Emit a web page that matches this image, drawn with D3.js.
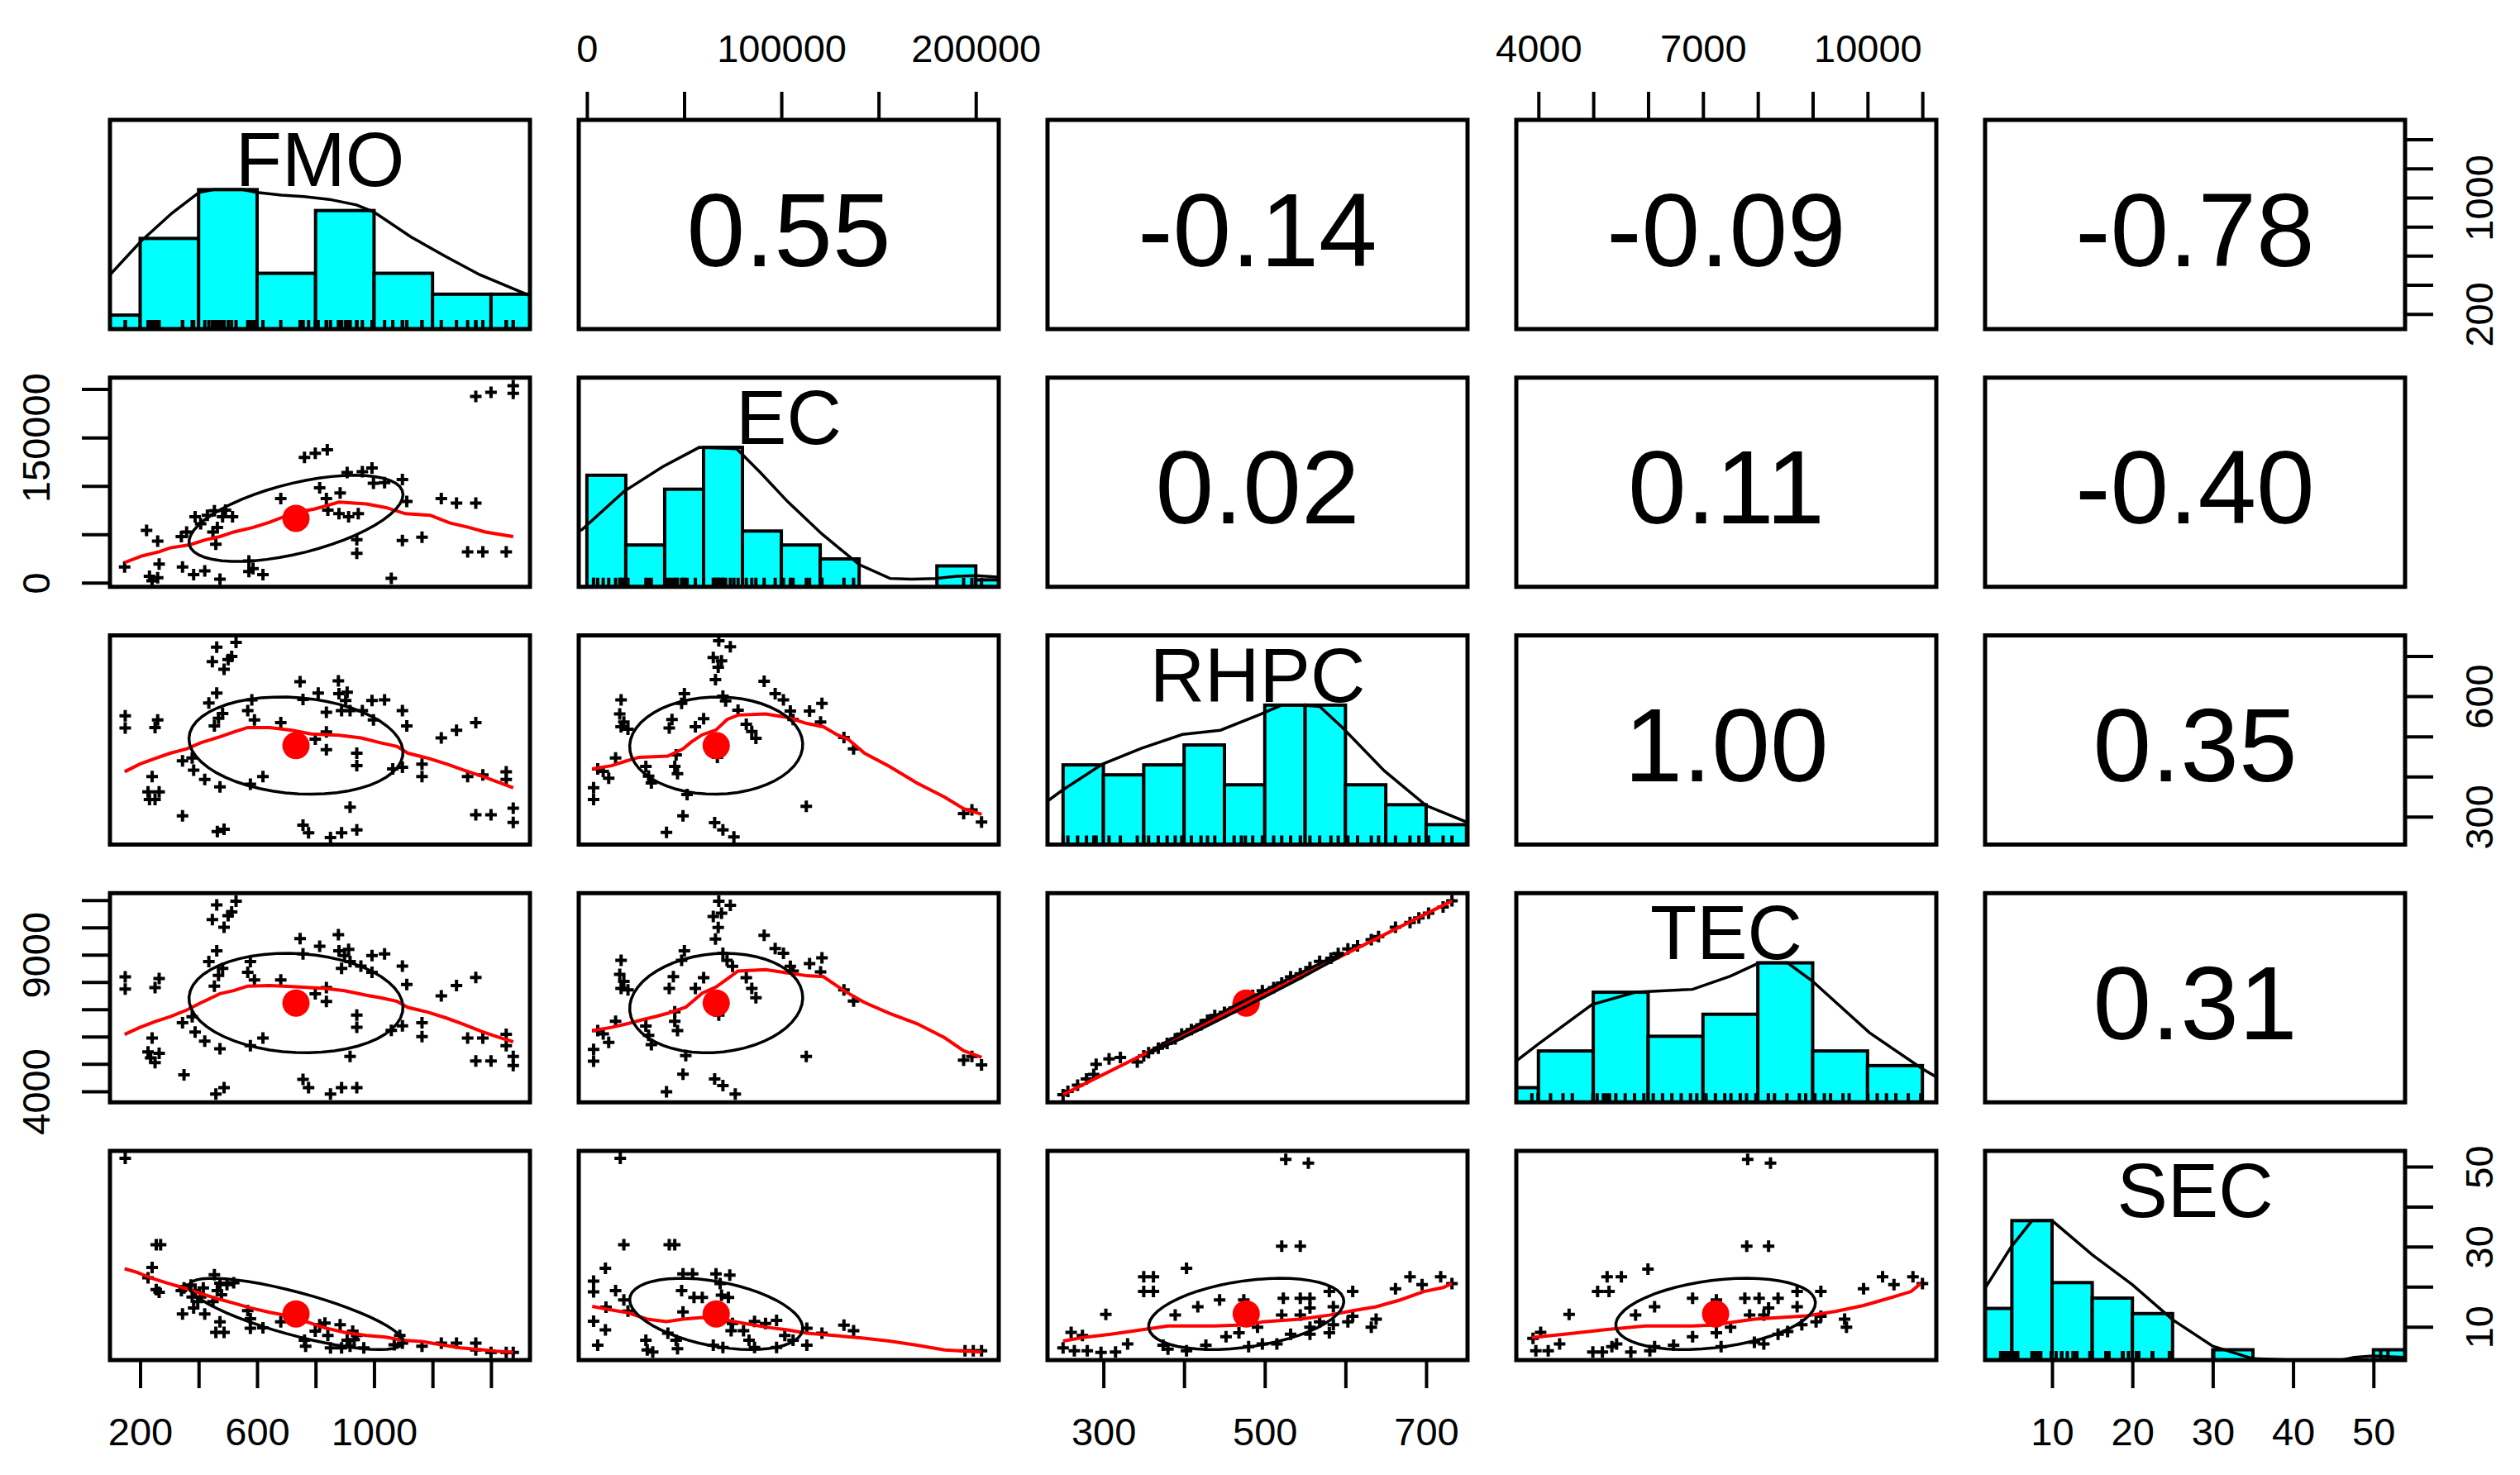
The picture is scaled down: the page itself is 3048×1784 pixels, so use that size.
<!DOCTYPE html>
<html>
<head>
<meta charset="utf-8">
<script src="https://cdn.jsdelivr.net/npm/d3@7"></script>
<style>
html, body { margin: 0; padding: 0; background: #fff; }
svg text { font-family: "Liberation Sans", Arial, sans-serif; }
</style>
</head>
<body>
<div id="chart"></div>
<script>
// variables, their data range, mean and sd
const varNames = ["FMO", "EC", "RHPC", "TEC", "SEC"]
const varLo = [150, 3800, 250, 3880, 3.6]
const varHi = [1480, 203800, 732, 10970, 52]
const varMean = [733, 66500, 477, 7230, 13.2]
const varSd = [366, 44500, 121, 1820, 8.9]
const corr = [
  [1, 0.55, -0.14, -0.09, -0.78],
  [0.55, 1, 0.02, 0.11, -0.40],
  [-0.14, 0.02, 1, 0.998, 0.35],
  [-0.09, 0.11, 0.998, 1, 0.31],
  [-0.78, -0.40, 0.35, 0.31, 1]
]

// tick values and which of them carry a label
const fmoTicks = [200, 400, 600, 800, 1000, 1200, 1400]
const ecTicks = [0, 50000, 100000, 150000, 200000]
const rhpcTicks = [300, 400, 500, 600, 700]
const tecTicks = [4000, 5000, 6000, 7000, 8000, 9000, 10000, 11000]
const secTicks = [10, 20, 30, 40, 50]
const fmoBottomLabels = [200, 600, 1000]
const fmoRightLabels = [200, 1000]
const ecTopLabels = [0, 100000, 200000]
const ecLeftLabels = [0, 150000]
const rhpcBottomLabels = [300, 500, 700]
const rhpcRightLabels = [300, 600]
const tecTopLabels = [4000, 7000, 10000]
const tecLeftLabels = [4000, 9000]
const secBottomLabels = [10, 20, 30, 40, 50]
const secRightLabels = [10, 30, 50]

// histograms
const fmoBreaks = [0, 200, 400, 600, 800, 1000, 1200, 1400, 1600]
const fmoCounts = [2, 13, 20, 8, 17, 8, 5, 5]
const ecBreaks = [0, 20000, 40000, 60000, 80000, 100000, 120000, 140000, 160000, 180000, 200000, 220000]
const ecCounts = [16, 6, 14, 20, 8, 6, 4, 0, 0, 3, 1]
const rhpcBreaks = [250, 300, 350, 400, 450, 500, 550, 600, 650, 700, 750]
const rhpcCounts = [8, 7, 8, 10, 6, 14, 14, 6, 4, 2]
const tecBreaks = [3000, 4000, 5000, 6000, 7000, 8000, 9000, 10000, 11000]
const tecCounts = [2, 7, 15, 9, 12, 19, 7, 5]
const secBreaks = [0, 5, 10, 15, 20, 25, 30, 35, 40, 45, 50, 55]
const secCounts = [10, 27, 15, 12, 9, 0, 2, 0, 0, 0, 2]

// density curves (scaled to max 1)
const fmoDens = [[97,.39],[203,.63],[308,.83],[402,.98],[450,1],[550,1],[600,.98],[683,.96],[760,.95],[847,.93],[940,.89],[999,.84],[1127,.66],[1245,.52],[1361,.39],[1533,.24]]
const ecDens = [[-4200,.40],[-2500,.41],[19200,.685],[38800,.86],[57750,1],[77000,.99],[89200,.82],[103300,.61],[120800,.38],[140000,.16],[155900,.06],[167000,.055],[179250,.06],[190000,.075],[200400,.08],[211800,.07]]
const rhpcDens = [[228,.30],[248,.385],[299,.578],[347,.69],[398,.79],[445,.82],[497,.94],[521,1],[545,1],[568,.99],[596,.84],[648,.53],[700,.28],[751,.16]]
const tecDens = [[3589,.294],[4005,.42],[4975,.70],[5771,.79],[6809,.81],[7500,.905],[8023,1],[8542,1],[8993,.87],[10032,.50],[11000,.24],[11261,.18]]
const secDens = [[1.6,.51],[4.9,.81],[7.5,1],[10,1],[15,.755],[20,.54],[25,.29],[30,.10],[35,.01],[40,0],[46,0],[47.6,.02],[49.9,.03],[53.9,.02]]

// scatter points of the lower panels
const fmoEcPts = [[1348,192450],[1400,196550],[1476,203470],[1476,195600],[762,129500],[799,133600],[840,137380],[908,113780],[960,114720],[993,118500],[998,102770],[1036,103400],[1097,106540],[1112,83880],[814,98040],[837,87030],[884,92700],[681,87030],[1230,87030],[1282,82310],[1348,82310],[842,75070],[880,71300],[913,68150],[946,71300],[388,68150],[454,74440],[492,75070],[516,68150],[407,60900],[449,52420],[464,57130],[359,52420],[222,53990],[260,42970],[341,47690],[459,39830],[1097,43600],[1164,47060],[941,44550],[941,30380],[1320,31960],[1372,31960],[1452,31960],[147,16230],[265,19380],[345,16230],[383,8360],[421,12130],[232,6790],[260,5210],[241,2070],[473,3630],[572,22530],[572,11520],[586,14650],[620,8360],[1059,4580],[430,69720],[482,68150]]
const fmoRhpcPts = [[462,722],[528,734],[447,686],[501,691],[513,699],[487,667],[747,636],[878,638],[462,608],[435,583],[482,557],[468,545],[454,526],[582,591],[568,564],[591,541],[757,592],[809,608],[880,606],[903,589],[908,610],[889,564],[918,564],[960,564],[993,589],[1036,591],[998,541],[1097,564],[1112,526],[837,560],[681,534],[799,493],[837,511],[837,467],[149,551],[149,521],[260,541],[251,522],[345,439],[378,446],[383,416],[241,400],[227,362],[265,362],[232,343],[251,343],[421,393],[473,374],[577,381],[620,400],[941,458],[941,427],[1064,419],[1097,423],[1164,431],[1164,400],[1230,496],[1282,515],[1348,534],[1320,400],[1372,404],[1452,412],[1452,393],[918,324],[345,302],[464,263],[487,269],[757,279],[776,260],[851,248],[889,260],[941,267],[1348,305],[1400,305],[1476,321],[1476,286]]
const fmoTecPts = [[462,10820],[528,10960],[447,10282],[501,10428],[513,10562],[487,10002],[747,9588],[878,9734],[462,9140],[435,8748],[482,8502],[468,8244],[454,7852],[577,8748],[568,8356],[591,8076],[757,9028],[814,9308],[880,9140],[899,8972],[913,9196],[889,8502],[918,8748],[955,8580],[993,8972],[1036,9028],[993,8356],[1097,8580],[1112,7908],[837,7292],[681,8076],[799,7572],[837,7796],[149,8188],[149,7740],[265,8132],[251,7796],[345,6508],[378,6732],[388,6172],[241,5948],[227,5444],[265,5388],[236,5220],[251,5052],[421,5836],[473,5556],[577,5668],[620,5948],[941,6788],[941,6340],[1059,6228],[1097,6396],[1164,6508],[1164,6004],[1230,7494],[1282,7875],[1348,8166],[1320,5948],[1372,5948],[1452,6082],[1452,5668],[918,5276],[350,4604],[459,3900],[487,4134],[757,4436],[776,4134],[851,3900],[889,4134],[941,4134],[1348,5108],[1400,5108],[1476,5276],[1476,4940]]
const fmoSecPts = [[149,52.1],[255,30.5],[270,30.5],[241,24.8],[227,22.2],[255,19.3],[265,18.6],[341,19.0],[374,20.4],[378,17.4],[397,16.3],[407,17.4],[345,13.2],[383,14.7],[421,13.2],[454,23.0],[473,20.9],[497,20.5],[520,21.0],[464,19.0],[478,18.0],[449,16.3],[473,11.2],[459,8.6],[487,8.6],[568,14.0],[577,12.0],[577,9.6],[620,9.7],[681,11.2],[762,6.6],[766,5.1],[799,8.9],[832,10.9],[842,7.8],[851,4.7],[884,10.5],[889,4.7],[918,5.1],[932,6.8],[941,7.8],[965,4.7],[1069,5.5],[1088,7.8],[1097,5.9],[1164,5.1],[1230,5.9],[1282,5.9],[1348,5.9],[1348,4.2],[1400,3.6],[1452,3.6],[1476,3.6],[350,19.7],[388,19.0],[416,19.7],[814,10.5],[927,8.9],[908,6.6]]
const ecRhpcPts = [[67820,738],[73760,723],[64990,696],[69230,688],[67530,672],[66120,641],[17580,591],[16880,556],[19000,536],[17580,524],[21120,518],[50130,606],[48710,582],[43760,542],[42350,521],[60040,544],[55790,524],[69940,600],[71360,588],[77720,565],[91170,637],[96830,606],[101070,591],[104610,563],[114510,563],[120880,582],[120170,536],[81970,530],[84800,512],[86920,495],[132200,497],[137150,469],[14750,446],[5560,419],[8390,413],[11220,396],[3430,372],[3430,343],[30320,425],[31730,401],[33150,384],[45890,454],[45180,425],[46590,407],[51540,355],[49420,302],[40930,261],[65700,285],[69940,267],[75600,250],[112820,326],[193750,308],[198000,317],[202950,287],[67110,448],[106030,542]]
const ecTecPts = [[67820,10960],[73760,10808],[64990,10396],[69230,10516],[67530,10000],[66120,9571],[17580,8798],[16880,8282],[19000,8024],[17580,7767],[21120,7715],[50130,9141],[48710,8798],[44470,8196],[42350,7767],[60040,8162],[55790,7767],[69940,9055],[72060,8798],[74890,8574],[91170,9709],[96830,9227],[101070,9055],[104610,8574],[114510,8677],[120880,8884],[120170,8368],[81970,8162],[84800,7767],[86920,7423],[132200,7715],[137150,7302],[14750,6564],[5560,6220],[8390,6100],[11220,5790],[3430,5532],[3430,5103],[30320,6392],[31730,6048],[33150,5704],[45180,6907],[45180,6564],[46590,6220],[50840,5309],[49420,4622],[40930,3986],[65700,4450],[69940,4210],[76310,3900],[112820,5275],[193750,5137],[198000,5275],[202950,4966],[67820,6787],[106030,8402]]
const ecSecPts = [[17160,52.1],[19000,30.5],[42350,30.5],[45180,30.5],[9520,24.6],[3430,21.4],[3430,18.7],[14750,19.0],[19000,16.7],[3430,11.4],[9520,9.2],[5560,5.4],[9800,14.9],[49420,23.2],[54370,23.2],[48710,19.0],[55080,17.3],[59330,17.3],[49420,13.7],[66400,23.2],[73480,22.9],[68530,20.8],[69230,17.9],[72770,17.3],[30320,6.6],[31030,4.2],[33860,3.7],[41640,8.4],[45890,6.6],[46590,4.5],[64990,5.4],[69940,4.8],[74180,9.0],[74890,10.8],[83380,6.6],[86210,4.8],[86210,11.3],[91870,10.8],[97530,11.6],[101780,7.8],[106030,6.6],[113100,9.6],[113100,5.4],[120880,8.4],[132200,10.4],[137150,9.0],[194460,4.0],[198710,4.0],[202950,4.0],[21120,13.9],[80550,9.0],[97530,4.8]]
const rhpcTecPts = [[250,3880],[256,3994],[268,4221],[279,4448],[288,4617],[291,4992],[307,5185],[321,5242],[342,5071],[350,5298],[356,5411],[368,5582],[379,5752],[389,5922],[397,6093],[409,6262],[421,6432],[429,6603],[438,6773],[450,6887],[462,7057],[471,7227],[476,7397],[485,7510],[497,7680],[511,7794],[521,7964],[532,8191],[544,8304],[556,8531],[568,8758],[582,8872],[591,9041],[603,9212],[615,9325],[632,9552],[641,9665],[662,10006],[680,10176],[691,10345],[703,10516],[721,10743],[732,10970]]
const rhpcSecPts = [[526,51.8],[554,50.9],[521,30.1],[544,30.1],[403,24.6],[350,22.5],[362,22.5],[350,18.8],[362,18.8],[303,13.1],[260,8.6],[274,7.8],[250,4.7],[264,4.0],[280,4.0],[297,3.6],[315,3.7],[330,5.7],[374,5.4],[403,4.0],[427,5.4],[389,12.9],[417,15.0],[444,16.7],[452,7.5],[468,8.5],[474,16.7],[491,9.9],[497,5.7],[515,5.7],[523,17.1],[544,17.1],[556,17.1],[521,12.9],[544,12.9],[556,14.7],[580,18.8],[609,18.8],[585,15.0],[556,9.9],[568,11.2],[585,10.5],[603,11.2],[609,12.6],[632,9.9],[638,11.9],[532,8.1],[556,8.1],[662,19.5],[680,22.5],[695,20.5],[718,22.5],[732,20.8],[380,4.4],[480,5.0],[580,8.5]]
const tecSecPts = [[7815,51.8],[8231,50.9],[7798,30.1],[8196,30.1],[5997,24.4],[5252,22.5],[5512,22.5],[5079,18.8],[5287,18.8],[4559,13.1],[4040,8.6],[3901,7.1],[3953,4.0],[4178,4.0],[4386,5.7],[4992,3.7],[5166,3.7],[5425,5.7],[5685,3.7],[6031,4.0],[6464,5.4],[5771,12.9],[6118,15.0],[6811,17.1],[6811,7.5],[7244,8.5],[7244,16.7],[7503,9.9],[7763,17.1],[8023,17.1],[8369,17.1],[7850,12.9],[8109,12.9],[8196,14.7],[8716,18.8],[9149,18.8],[8716,15.0],[7937,6.1],[8109,5.7],[8369,8.1],[8543,8.8],[8802,10.5],[9062,11.2],[9149,12.6],[9582,11.9],[9616,9.9],[9928,19.5],[10274,22.5],[10482,20.5],[10828,22.5],[11001,20.8],[5339,5.0],[6118,5.0],[7330,5.0]]

// lowess smoothers of the lower panels
const fmoEcSmooth = [[147,20940],[208,27860],[265,31960],[303,36050],[369,39190],[426,44550],[473,47690],[520,52420],[587,57130],[643,62490],[691,68150],[738,72870],[795,76020],[832,79160],[880,83260],[974,81370],[1041,77590],[1107,71300],[1192,69720],[1258,61850],[1324,57130],[1381,52420],[1476,47690]]
const fmoRhpcSmooth = [[147,412],[199,431],[255,446],[303,458],[360,469],[407,484],[473,499],[520,511],[568,522],[643,522],[719,515],[785,506],[880,503],[956,496],[1022,484],[1079,475],[1116,458],[1183,446],[1249,431],[1306,416],[1372,400],[1429,385],[1476,372]]
const fmoTecSmooth = [[147,6082],[199,6340],[255,6564],[303,6732],[360,6978],[407,7236],[473,7572],[520,7684],[568,7852],[643,7874],[719,7830],[833,7762],[899,7684],[974,7516],[1022,7426],[1079,7292],[1116,7068],[1183,6900],[1249,6676],[1306,6452],[1372,6172],[1429,5970],[1476,5814]]
const fmoSecSmooth = [[147,24.5],[189,23.6],[241,22.1],[293,20.9],[350,19.7],[407,18.3],[464,17.0],[520,15.9],[577,14.7],[643,13.6],[700,12.8],[766,11.3],[833,9.7],[899,8.6],[974,7.8],[1041,7.4],[1097,6.6],[1164,6.3],[1230,5.5],[1296,4.7],[1362,4.3],[1419,3.9],[1476,3.6]]
const ecRhpcSmooth = [[2700,419],[12600,427],[20400,439],[26800,448],[41600,451],[49400,469],[53700,486],[59300,504],[66400,516],[72100,542],[77700,553],[91900,556],[103200,547],[113100,532],[121600,524],[128700,504],[134300,493],[142800,458],[155600,425],[169700,384],[183900,349],[193800,320],[203000,306]]
const ecTecSmooth = [[2700,6220],[12600,6340],[21100,6478],[28200,6615],[35300,6735],[41600,6856],[50800,7079],[55100,7337],[59300,7595],[66400,7818],[72100,8110],[77700,8403],[91900,8454],[103200,8334],[113100,8231],[121600,8196],[128700,7853],[134300,7595],[142800,7251],[155600,6856],[169700,6478],[183900,5962],[193800,5481],[203000,5240]]
const ecSecSmooth = [[2700,15.1],[11200,14.3],[21100,13.5],[31000,11.9],[40900,11.3],[49400,11.9],[59300,12.3],[69200,11.9],[77700,11.1],[91900,9.9],[103200,9.2],[113100,8.4],[127300,7.8],[141400,7.2],[155600,6.4],[169700,5.4],[183900,4.2],[203000,3.7]]
const rhpcTecSmooth = [[250,3880],[400,6090],[550,8290],[732,10970]]
const rhpcSecSmooth = [[250,6.4],[274,7.3],[309,8.1],[350,9.3],[380,10.2],[438,10.2],[480,10.5],[497,11.2],[544,11.9],[580,12.9],[609,14.0],[638,15.0],[668,16.7],[697,18.8],[721,19.8],[732,20.8]]
const tecSecSmooth = [[3880,7.3],[4473,8.1],[5252,9.3],[5945,10.2],[6811,10.2],[7157,10.4],[7936,11.9],[8889,12.7],[9408,13.8],[9928,15.3],[10361,17.0],[10794,18.8],[10970,20.8]]

// ---------------------------------------------------------------

const W = 3048, H = 1784
const gridLeft = 133, colStep = 567, cellW = 508
const gridTop = 145, rowStep = 311.75, cellH = 253

const histograms = [
  {breaks: fmoBreaks, counts: fmoCounts, dens: fmoDens, rug: fmoRhpcPts.map(d => d[0])},
  {breaks: ecBreaks, counts: ecCounts, dens: ecDens, rug: ecRhpcPts.map(d => d[0])},
  {breaks: rhpcBreaks, counts: rhpcCounts, dens: rhpcDens, rug: rhpcTecPts.map(d => d[0])},
  {breaks: tecBreaks, counts: tecCounts, dens: tecDens, rug: rhpcTecPts.map(d => d[1])},
  {breaks: secBreaks, counts: secCounts, dens: secDens, rug: rhpcSecPts.map(d => d[1])}
]

const lowerPanels = [
  {row: 1, col: 0, pts: fmoEcPts, smooth: fmoEcSmooth},
  {row: 2, col: 0, pts: fmoRhpcPts, smooth: fmoRhpcSmooth},
  {row: 2, col: 1, pts: ecRhpcPts, smooth: ecRhpcSmooth},
  {row: 3, col: 0, pts: fmoTecPts, smooth: fmoTecSmooth},
  {row: 3, col: 1, pts: ecTecPts, smooth: ecTecSmooth},
  {row: 3, col: 2, pts: rhpcTecPts, smooth: rhpcTecSmooth},
  {row: 4, col: 0, pts: fmoSecPts, smooth: fmoSecSmooth},
  {row: 4, col: 1, pts: ecSecPts, smooth: ecSecSmooth},
  {row: 4, col: 2, pts: rhpcSecPts, smooth: rhpcSecSmooth},
  {row: 4, col: 3, pts: tecSecPts, smooth: tecSecSmooth}
]

const axisSpecs = [
  {v: 0, side: "bottom", ticks: fmoTicks, labels: fmoBottomLabels},
  {v: 2, side: "bottom", ticks: rhpcTicks, labels: rhpcBottomLabels},
  {v: 4, side: "bottom", ticks: secTicks, labels: secBottomLabels},
  {v: 1, side: "top", ticks: ecTicks, labels: ecTopLabels},
  {v: 3, side: "top", ticks: tecTicks, labels: tecTopLabels},
  {v: 1, side: "left", ticks: ecTicks, labels: ecLeftLabels},
  {v: 3, side: "left", ticks: tecTicks, labels: tecLeftLabels},
  {v: 0, side: "right", ticks: fmoTicks, labels: fmoRightLabels},
  {v: 2, side: "right", ticks: rhpcTicks, labels: rhpcRightLabels},
  {v: 4, side: "right", ticks: secTicks, labels: secRightLabels}
]

const n = varNames.length
const cellX = j => gridLeft + j * colStep
const cellY = i => gridTop + i * rowStep

// R pads the data range by 4% on each side
function paddedDomain(i) {
  const pad = (varHi[i] - varLo[i]) * 0.04
  return [varLo[i] - pad, varHi[i] + pad]
}

const xScales = varNames.map((_, j) => d3.scaleLinear().domain(paddedDomain(j)).range([cellX(j), cellX(j) + cellW]))
const yScales = varNames.map((_, i) => d3.scaleLinear().domain(paddedDomain(i)).range([cellY(i) + cellH, cellY(i)]))

const svg = d3.select("#chart").append("svg")
  .attr("width", W)
  .attr("height", H)
  .style("display", "block")

svg.append("rect").attr("width", W).attr("height", H).attr("fill", "#fff")

const defs = svg.append("defs")
for (let i = 0; i < n; i++) {
  for (let j = 0; j < n; j++) {
    defs.append("clipPath").attr("id", `clip-${i}-${j}`)
      .append("rect")
      .attr("x", cellX(j)).attr("y", cellY(i))
      .attr("width", cellW).attr("height", cellH)
  }
}

const line = d3.line()

// diagonal: histogram + density + rug + name
histograms.forEach((h, i) => {
  const x = xScales[i]
  const y = d3.scaleLinear().domain([0, 1.5]).range([cellY(i) + cellH, cellY(i)])
  const maxCount = d3.max(h.counts)
  const g = svg.append("g").attr("clip-path", `url(#clip-${i}-${i})`)

  g.selectAll("rect.bar")
    .data(h.counts)
    .join("rect")
    .attr("class", "bar")
    .attr("x", (c, k) => x(h.breaks[k]))
    .attr("width", (c, k) => x(h.breaks[k + 1]) - x(h.breaks[k]))
    .attr("y", c => y(c / maxCount))
    .attr("height", c => y(0) - y(c / maxCount))
    .attr("fill", "#00ffff")
    .attr("stroke", "#000")
    .attr("stroke-width", 4)

  g.append("path")
    .attr("d", line(h.dens.map(d => [x(d[0]), y(d[1])])))
    .attr("fill", "none")
    .attr("stroke", "#000")
    .attr("stroke-width", 3.5)

  g.selectAll("line.rug")
    .data(h.rug)
    .join("line")
    .attr("class", "rug")
    .attr("x1", d => x(d)).attr("x2", d => x(d))
    .attr("y1", y(0)).attr("y2", y(0) - 11)
    .attr("stroke", "#000")
    .attr("stroke-width", 4)

  svg.append("text")
    .attr("x", cellX(i) + cellW / 2)
    .attr("y", cellY(i) + 80)
    .attr("text-anchor", "middle")
    .attr("font-size", 92)
    .attr("fill", "#000")
    .text(varNames[i])
})

// upper panels: correlations
for (let i = 0; i < n; i++) {
  for (let j = i + 1; j < n; j++) {
    svg.append("text")
      .attr("x", cellX(j) + cellW / 2)
      .attr("y", cellY(i) + cellH / 2 + 50)
      .attr("text-anchor", "middle")
      .attr("font-size", 127)
      .attr("fill", "#000")
      .text(corr[i][j].toFixed(2))
  }
}

// psych style ellipse, 51 segments
function ellipsePoints(xm, ym, xs, ys, r) {
  const theta = r !== 0 ? Math.sign(r) / Math.sqrt(2) : 1 / Math.sqrt(2)
  const a = Math.sqrt(1 + r), b = Math.sqrt(1 - r)
  return d3.range(52).map(k => {
    const t = k * 2 * Math.PI / 51
    const c = Math.cos(t), s = Math.sin(t)
    return [xm + xs * (a * theta * c - b * theta * s), ym + ys * (a * theta * c + b * theta * s)]
  })
}

// lower panels: points, smoother, mean, ellipse
lowerPanels.forEach(p => {
  const x = xScales[p.col], y = yScales[p.row]
  const g = svg.append("g").attr("clip-path", `url(#clip-${p.row}-${p.col})`)

  g.selectAll("path.pt")
    .data(p.pts)
    .join("path")
    .attr("class", "pt")
    .attr("transform", d => `translate(${x(d[0])},${y(d[1])})`)
    .attr("d", "M-7,0H7M0,-7V7")
    .attr("stroke", "#000")
    .attr("stroke-width", 4)
    .attr("fill", "none")

  g.append("path")
    .attr("d", line(p.smooth.map(d => [x(d[0]), y(d[1])])))
    .attr("fill", "none")
    .attr("stroke", "#ff0000")
    .attr("stroke-width", 4)

  g.append("circle")
    .attr("cx", x(varMean[p.col]))
    .attr("cy", y(varMean[p.row]))
    .attr("r", 16.5)
    .attr("fill", "#ff0000")

  const ell = ellipsePoints(varMean[p.col], varMean[p.row], varSd[p.col], varSd[p.row], corr[p.row][p.col])
  g.append("path")
    .attr("d", line(ell.map(d => [x(d[0]), y(d[1])])))
    .attr("fill", "none")
    .attr("stroke", "#000")
    .attr("stroke-width", 3.5)
})

// panel borders
for (let i = 0; i < n; i++) {
  for (let j = 0; j < n; j++) {
    svg.append("rect")
      .attr("x", cellX(j)).attr("y", cellY(i))
      .attr("width", cellW).attr("height", cellH)
      .attr("fill", "none")
      .attr("stroke", "#000")
      .attr("stroke-width", 5)
  }
}

// outer axes
axisSpecs.forEach(a => {
  const fmt = d => a.labels.includes(d) ? String(d) : ""
  let axis, tx, ty
  if (a.side === "bottom") {
    axis = d3.axisBottom(xScales[a.v]); tx = 0; ty = cellY(n - 1) + cellH
  } else if (a.side === "top") {
    axis = d3.axisTop(xScales[a.v]); tx = 0; ty = cellY(0)
  } else if (a.side === "left") {
    axis = d3.axisLeft(yScales[a.v]); tx = cellX(0); ty = 0
  } else {
    axis = d3.axisRight(yScales[a.v]); tx = cellX(n - 1) + cellW; ty = 0
  }
  axis.tickValues(a.ticks).tickFormat(fmt).tickSizeInner(34).tickSizeOuter(0).tickPadding(36)

  const g = svg.append("g").attr("transform", `translate(${tx},${ty})`).call(axis)
  g.attr("font-size", 47).attr("font-family", "Liberation Sans, Arial, sans-serif")
  g.select(".domain").remove()
  g.selectAll(".tick line").attr("stroke", "#000").attr("stroke-width", 4)
  g.selectAll(".tick text").attr("fill", "#000")

  if (a.side === "left" || a.side === "right") {
    const off = a.side === "left" ? -73 : 106
    g.selectAll(".tick text")
      .attr("x", null).attr("dy", null)
      .attr("text-anchor", "middle")
      .attr("transform", `translate(${off},0) rotate(-90)`)
  }
})
</script>
</body>
</html>
